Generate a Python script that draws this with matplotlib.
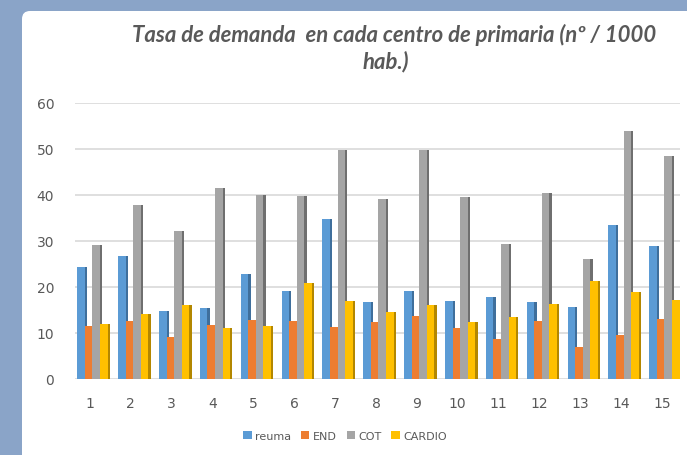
import numpy as np
import matplotlib
matplotlib.use("Agg")
import matplotlib.pyplot as plt
from matplotlib.patches import FancyBboxPatch, Patch

# data
centros = [str(i) for i in range(1, 16)]
reuma = [24.3, 26.7, 14.7, 15.5, 22.7, 19.1, 34.8, 16.8, 19.1, 16.9, 17.9, 16.7, 15.6, 33.5, 28.8]
end = [11.6, 12.6, 9.2, 11.7, 12.8, 12.6, 11.2, 12.4, 13.7, 11.0, 8.6, 12.6, 6.9, 9.6, 13.1]
cot = [29.1, 37.7, 32.2, 41.4, 40.0, 39.7, 49.6, 39.0, 49.8, 39.5, 29.2, 40.3, 26.0, 53.9, 48.3]
cardio = [12.0, 14.2, 16.0, 11.1, 11.5, 20.9, 16.9, 14.6, 16.1, 12.3, 13.4, 16.2, 21.2, 18.8, 17.1]

series = [("reuma", reuma), ("END", end), ("COT", cot), ("CARDIO", cardio)]
colors = ["#5b9bd5", "#ed7d31", "#a5a5a5", "#ffc000"]
sides = ["#3f6f9c", "#a9561f", "#6f6f6f", "#b38700"]

W, H = 687, 456
fig = plt.figure(figsize=(W / 100, H / 100), dpi=100)
fig.patch.set_facecolor("#8aa4c8")

# white chart area over the slide background
bg = fig.add_axes([0, 0, 1, 1])
bg.set_xlim(0, W)
bg.set_ylim(H, 0)
bg.axis("off")
bg.add_patch(FancyBboxPatch((22, 12), W + 40, H + 40, boxstyle="round,pad=0,rounding_size=8",
                            facecolor="white", edgecolor="none"))

ax = fig.add_axes([75 / W, (H - 380) / H, 605 / W, 276.5 / H])
ax.set_facecolor("none")

x = np.arange(1, 16)
pitch = 0.185
side_w = 0.065
start = -1.5 * pitch + 0.06
for k, (name, vals) in enumerate(series):
    pos = x + start + k * pitch
    # dark side face first, next bar's front covers it
    ax.bar(pos + pitch / 2 + side_w / 2 - 0.01, vals, width=side_w, color=sides[k], zorder=2 + k)
    ax.bar(pos, vals, width=pitch, color=colors[k], zorder=2 + k, label=name)

ax.set_xlim(0.633, 15.44)
ax.set_ylim(0, 60)
ax.set_yticks(range(0, 61, 10))
ax.set_xticks(x)
ax.set_xticklabels(centros)
ax.grid(axis="y", color="#d9d9d9", linewidth=1.2, zorder=0)
ax.set_axisbelow(True)
for s in ax.spines.values():
    s.set_visible(False)
ax.tick_params(length=0, colors="#595959", labelsize=10)
ax.tick_params(axis="y", pad=15)
ax.tick_params(axis="x", pad=12)

fig.text(394 / W, 1 - 42 / H, "Tasa de demanda  en cada centro de primaria (nº / 1000",
         ha="center", va="baseline", fontsize=15.9, family="Lato", style="italic",
         weight="bold", color="#595959")
fig.text(386 / W, 1 - 68 / H, "hab.)", ha="center", va="baseline", fontsize=15.9,
         family="Lato", style="italic", weight="bold", color="#595959")

handles = [Patch(facecolor=c, edgecolor="none") for c in colors]
fig.legend(handles, [n for n, _ in series], loc="center", bbox_to_anchor=(345 / W, 1 - 437 / H),
           ncol=4, frameon=False, fontsize=8, handlelength=0.75, handleheight=0.75,
           handletextpad=0.3, columnspacing=0.9, labelcolor="#595959")

fig.savefig("out.png", dpi=100, facecolor=fig.get_facecolor())
